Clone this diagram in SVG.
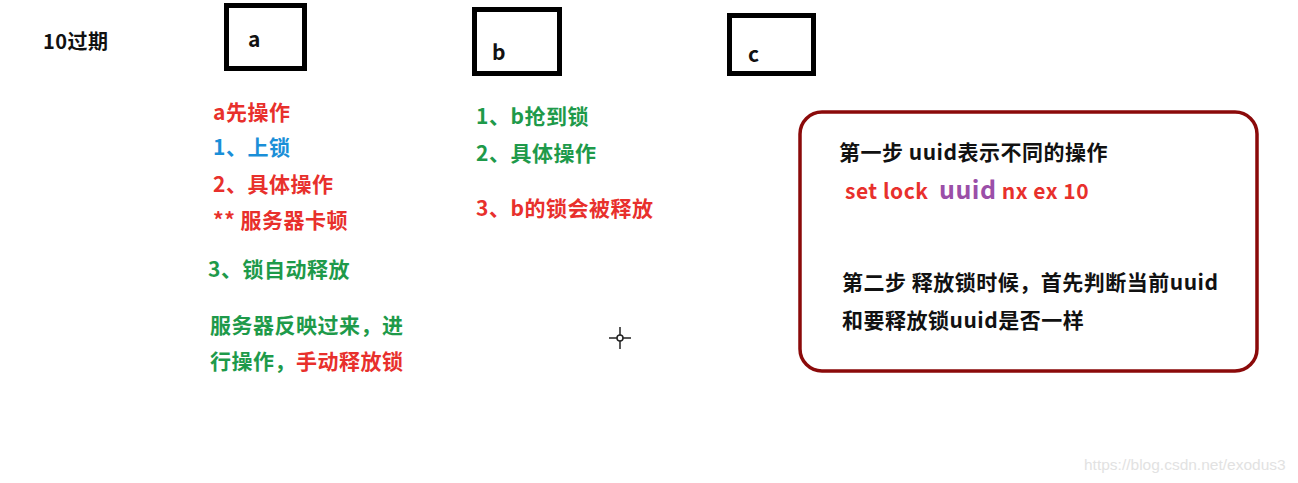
<svg xmlns="http://www.w3.org/2000/svg" width="1298" height="483" viewBox="0 0 1298 483">
<style>
text{font-family:"Microsoft YaHei","Noto Sans CJK SC",sans-serif;font-weight:bold;font-size:21px;letter-spacing:0.5px}
.box{fill:#fff;stroke:#000;stroke-width:5}
.r{fill:#e8302c}.g{fill:#1e9a4a}.bl{fill:#1a8fd8}.k{fill:#111}.p{fill:#9b4fa8}
.wm{font-family:"Liberation Sans",Arial,sans-serif;font-weight:normal;font-size:15.5px;letter-spacing:0;fill:#e2e2e2}
.lbl{font-size:21px;letter-spacing:0}
</style>
<rect width="1298" height="483" fill="#fff"/>
<text x="43" y="49" class="k" style="font-size:20px">10过期</text>
<g id="node-a"><rect class="box" x="226.5" y="5.5" width="78" height="63"/><text x="248" y="47" class="k lbl">a</text></g>
<g id="node-b"><rect class="box" x="474.5" y="9.5" width="85" height="64"/><text x="492" y="60" class="k lbl">b</text></g>
<g id="node-c"><rect class="box" x="729.5" y="15.5" width="84" height="58"/><text x="748" y="62" class="k lbl">c</text></g>
<g id="notes-a">
<text x="213" y="120" class="r">a先操作</text>
<text x="213" y="155" class="bl">1、上锁</text>
<text x="213" y="192" class="r">2、具体操作</text>
<text x="213" y="228" class="r">** 服务器卡顿</text>
<text x="208" y="277" class="g">3、锁自动释放</text>
<text x="210" y="333" class="g">服务器反映过来，进</text>
<text x="210" y="369" class="g">行操作，<tspan class="r">手动释放锁</tspan></text>
</g>
<g id="notes-b">
<text x="476" y="124" class="g">1、b抢到锁</text>
<text x="476" y="161" class="g">2、具体操作</text>
<text x="476" y="216" class="r">3、b的锁会被释放</text>
</g>
<g id="note-box">
<rect x="800" y="112" width="457" height="259" rx="22" ry="22" fill="#fff" stroke="#8b0a0a" stroke-width="3.5"/>
<text x="839" y="160" class="k">第一步 uuid表示不同的操作</text>
<text x="845" y="199" class="r" xml:space="preserve">set lock  <tspan class="p" style="font-size:25px">uuid</tspan> nx ex 10</text>
<text x="842" y="290" class="k">第二步 释放锁时候，首先判断当前uuid</text>
<text x="842" y="328" class="k">和要释放锁uuid是否一样</text>
</g>
<g id="cursor" stroke="#222" stroke-width="1.5" fill="none">
<circle cx="620" cy="338" r="3"/>
<line x1="620" y1="327" x2="620" y2="335"/><line x1="620" y1="341" x2="620" y2="349"/>
<line x1="609" y1="338" x2="617" y2="338"/><line x1="623" y1="338" x2="631" y2="338"/>
</g>
<text x="1084" y="470" class="wm">https://blog.csdn.net/exodus3</text>
</svg>
